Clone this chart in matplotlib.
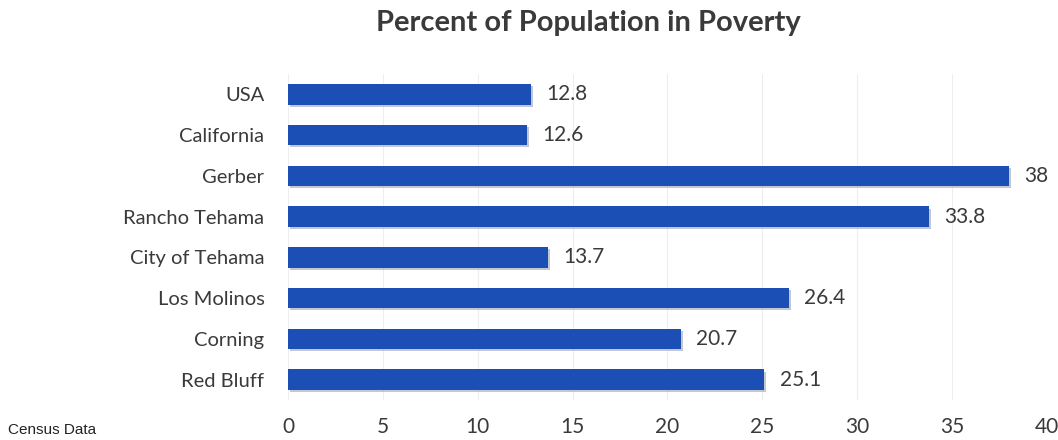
import matplotlib.pyplot as plt
import matplotlib.patheffects as pe

places = ["USA", "California", "Gerber", "Rancho Tehama", "City of Tehama",
          "Los Molinos", "Corning", "Red Bluff"]
poverty_pct = [12.8, 12.6, 38, 33.8, 13.7, 26.4, 20.7, 25.1]
x_ticks = [0, 5, 10, 15, 20, 25, 30, 35, 40]

BAR_BLUE = "#1b4fb6"
TEXT = "#3a3a3a"

plt.rcParams["font.family"] = ["Lato", "DejaVu Sans"]

fig = plt.figure(figsize=(10.58, 4.4), dpi=100)
ax = fig.add_axes([0.2722, 0.0909, 0.7174, 0.7409])

# top of the list sits at the top of the chart
ypos = list(range(len(places)))[::-1]
bars = ax.barh(ypos, poverty_pct, height=0.5, color=BAR_BLUE, zorder=3)
for b in bars:
    b.set_path_effects([pe.SimplePatchShadow(offset=(1.5, -1.5), shadow_rgbFace="#9aa3b5", alpha=0.6),
                        pe.Normal()])

for y, v in zip(ypos, poverty_pct):
    label = f"{v:g}"
    ax.annotate(label, (v, y), xytext=(11, 0), textcoords="offset points",
                va="center", ha="left", fontsize=15, color=TEXT)

ax.set_xlim(0, 40)
ax.set_ylim(-0.5, len(places) - 0.5)
ax.set_xticks(x_ticks)
ax.set_yticks(ypos)
ax.set_yticklabels(places, fontsize=14.5)
ax.tick_params(axis="both", length=0, labelcolor=TEXT)
ax.tick_params(axis="x", pad=12, labelsize=15)
ax.tick_params(axis="y", pad=17)
ax.grid(axis="x", color="#eeeeee", linewidth=0.8, zorder=0)
for s in ax.spines.values():
    s.set_visible(False)

fig.text(0.556, 0.948, "Percent of Population in Poverty", ha="center", va="center",
         fontsize=21, fontweight="bold", color=TEXT)
fig.text(0.008, 0.022, "Census Data", ha="left", va="center", fontsize=11,
         family="Liberation Sans", color="#222222")

fig.savefig("out.png", dpi=100)
